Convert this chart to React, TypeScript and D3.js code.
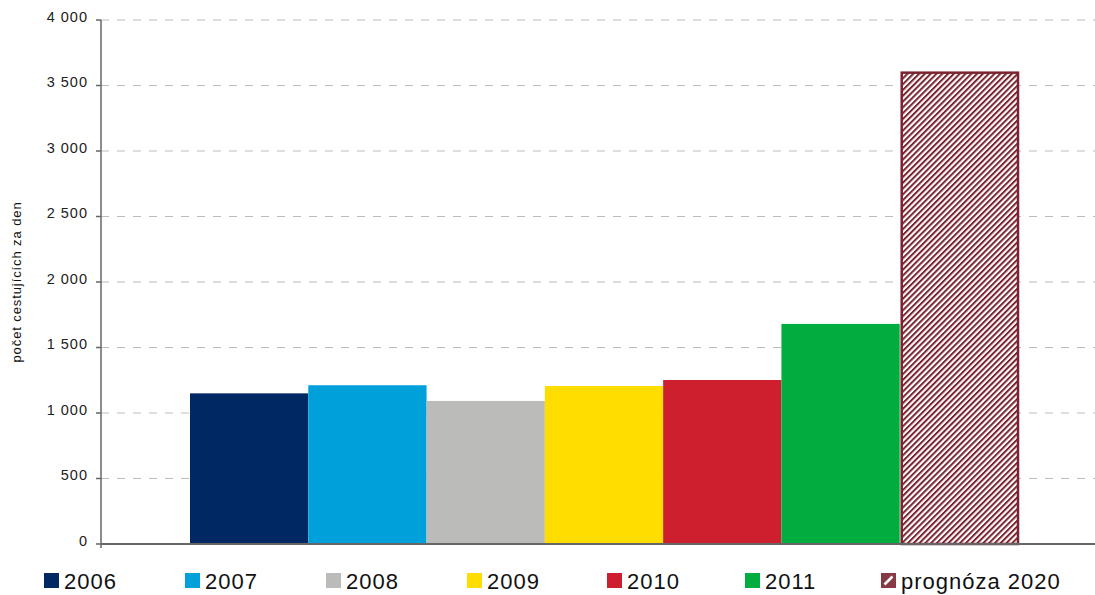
import React from "react";
import * as d3 from "d3";

const series = ["2006", "2007", "2008", "2009", "2010", "2011", "prognóza 2020"];
const values = [1150, 1212, 1092, 1206, 1252, 1680, 3598];
const colors = ["#002862", "#00A1DB", "#BBBCBA", "#FFDD00", "#CE1F2F", "#00AD3E", "url(#hatch)"];
const yTicks = [0, 500, 1000, 1500, 2000, 2500, 3000, 3500, 4000];
const yLabel = "počet cestujících za den";

const W = 1095;
const H = 595;
const plotLeft = 101;
const plotRight = 1095;
const plotTop = 20;
const plotBottom = 544;
const groupLeft = 190;
const groupRight = 1018;
const maroon = "#7B2430";
const legendPos = [44, 185, 326, 467, 607, 745, 881];

const fmt = (v: number) => {
  const s = String(v);
  return s.length > 3 ? s.slice(0, s.length - 3) + " " + s.slice(-3) : s;
};

export default function App() {
  const y = d3.scaleLinear().domain([0, 4000]).range([plotBottom, plotTop]);
  const x = d3.scaleBand<string>().domain(series).range([groupLeft, groupRight]).padding(0);

  return (
    <svg
      width={W}
      height={H}
      style={{ position: "absolute", left: 0, top: 0 }}
      fontFamily="'Liberation Sans', Arial, sans-serif"
    >
      <defs>
        <pattern id="hatch" patternUnits="userSpaceOnUse" width={4.1} height={4.1} patternTransform="rotate(45)">
          <rect x={0} y={0} width={4.1} height={4.1} fill="#ffffff" />
          <rect x={0} y={0} width={2} height={4.1} fill={maroon} />
        </pattern>
      </defs>
      {yTicks.filter((t) => t > 0).map((t) => (
        <line
          key={t}
          x1={plotLeft}
          x2={plotRight}
          y1={y(t)}
          y2={y(t)}
          stroke="#BDBDBD"
          strokeWidth={1}
          strokeDasharray="8,8"
        />
      ))}
      {series.map((s, i) => {
        const hatched = i === series.length - 1;
        return (
          <rect
            key={s}
            x={hatched ? x(s)! + 2 : x(s)!}
            y={y(values[i])}
            width={hatched ? x.bandwidth() - 2 : x.bandwidth()}
            height={plotBottom - y(values[i])}
            fill={colors[i]}
            stroke={hatched ? maroon : "none"}
            strokeWidth={hatched ? 2.5 : 0}
          />
        );
      })}
      <line x1={plotLeft} x2={plotLeft} y1={plotTop} y2={plotBottom + 4} stroke="#666" strokeWidth={1.5} />
      <line x1={plotLeft} x2={plotRight} y1={plotBottom} y2={plotBottom} stroke="#666" strokeWidth={2} />
      {yTicks.map((t) => (
        <g key={t}>
          <line x1={96} x2={plotLeft} y1={y(t)} y2={y(t)} stroke="#666" strokeWidth={1.5} />
          <text x={88} y={y(t) + 1.5} textAnchor="end" fontSize={14.5} letterSpacing={1} fill="#222">
            {fmt(t)}
          </text>
        </g>
      ))}
      <text
        transform={`translate(20.5,${(plotTop + plotBottom) / 2}) rotate(-90)`}
        textAnchor="middle"
        fontSize={13}
        letterSpacing={0.9}
        fill="#111"
      >
        {yLabel}
      </text>
      {series.map((s, i) => {
        const lx = legendPos[i];
        const hatched = i === series.length - 1;
        return (
          <g key={s}>
            {hatched ? (
              <g>
                <rect x={lx + 1} y={574} width={13} height={13} fill={maroon} opacity={0.9} stroke={maroon} strokeWidth={2} />
                <line x1={lx + 3.5} y1={584.5} x2={lx + 11.5} y2={576.5} stroke="#ffffff" strokeWidth={2.5} />
              </g>
            ) : (
              <rect x={lx} y={573} width={15} height={15} fill={colors[i]} />
            )}
            <text x={lx + 20} y={589} fontSize={22} letterSpacing={1} fill="#111">
              {s}
            </text>
          </g>
        );
      })}
    </svg>
  );
}
